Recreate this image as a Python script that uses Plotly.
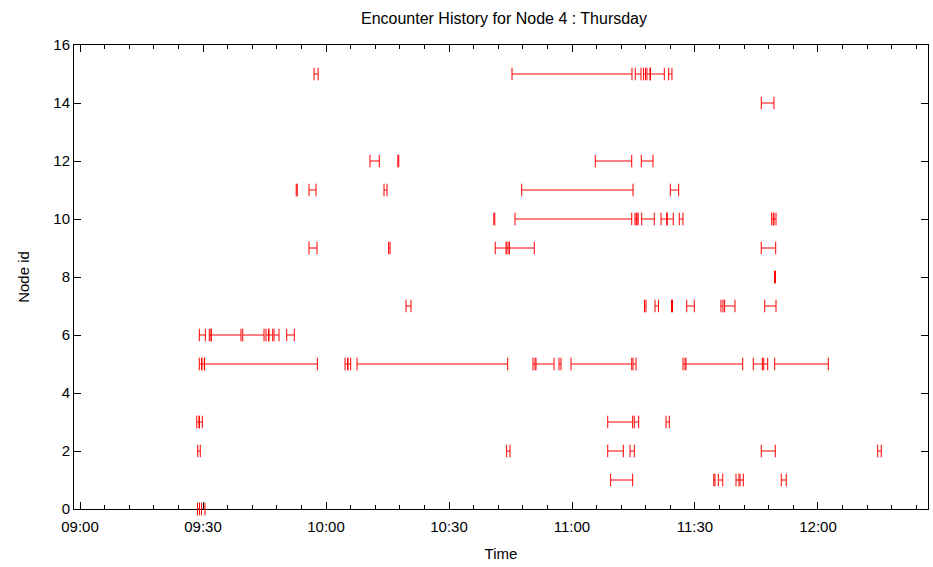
import plotly.graph_objects as go

DAY = "2009-03-05 "

# Encounter intervals per peer node: (node id, start, end)
node_ids = [15, 15, 15, 15, 15, 15, 15,
            14,
            12, 12, 12, 12,
            11, 11, 11, 11, 11,
            10, 10, 10, 10, 10, 10, 10, 10, 10, 10,
            9, 9, 9, 9, 9, 9,
            8,
            7, 7, 7, 7, 7, 7, 7, 7,
            6, 6, 6, 6, 6, 6, 6, 6,
            5, 5, 5, 5, 5, 5, 5, 5, 5, 5, 5, 5, 5, 5, 5, 5,
            3, 3, 3, 3, 3,
            2, 2, 2, 2, 2, 2,
            1, 1, 1, 1, 1, 1,
            0, 0]

start_times = [
    "09:57:05", "10:45:22", "11:15:26", "11:17:26", "11:18:17", "11:19:09", "11:23:35",
    "11:46:10",
    "10:10:44", "10:17:31", "11:05:41", "11:16:54",
    "09:52:44", "09:55:51", "10:14:09", "10:47:44", "11:23:59",
    "10:40:56", "10:46:06", "11:15:22", "11:15:51", "11:17:00", "11:21:43", "11:23:15",
    "11:26:10", "11:48:42", "11:49:16",
    "09:55:51", "10:15:16", "10:41:17", "10:44:09", "10:44:43", "11:46:10",
    "11:49:23",
    "10:19:31", "11:17:41", "11:20:15", "11:24:16", "11:27:59", "11:36:20", "11:37:14",
    "11:47:00",
    "09:29:06", "09:31:32", "09:32:01", "09:39:41", "09:45:22", "09:46:06", "09:47:19",
    "09:50:25",
    "09:29:06", "09:29:45", "09:30:23", "10:04:38", "10:05:22", "10:07:34", "10:50:29",
    "10:51:13", "10:56:50", "10:59:46", "11:14:53", "11:27:04", "11:27:48", "11:44:13",
    "11:46:46", "11:49:26",
    "09:28:28", "09:29:09", "11:08:43", "11:15:12", "11:22:56",
    "09:28:43", "10:44:04", "11:08:43", "11:14:09", "11:46:10", "12:14:34",
    "11:09:26", "11:34:35", "11:35:41", "11:40:00", "11:40:59", "11:51:03",
    "09:28:40", "09:29:38",
]

end_times = [
    "09:58:05", "11:14:38", "11:16:50", "11:17:56", "11:19:01", "11:22:31", "11:24:23",
    "11:49:16",
    "10:13:00", "10:17:45", "11:14:34", "11:19:45",
    "09:52:59", "09:57:34", "10:14:53", "11:14:53", "11:26:01",
    "10:41:10", "11:14:34", "11:15:40", "11:16:09", "11:20:04", "11:23:06", "11:24:42",
    "11:27:04", "11:49:06", "11:49:46",
    "09:57:48", "10:15:37", "10:43:54", "10:44:38", "10:50:48", "11:49:41",
    "11:49:38",
    "10:20:44", "11:18:03", "11:21:06", "11:24:31", "11:29:50", "11:36:50", "11:39:45",
    "11:49:46",
    "09:30:34", "09:31:57", "09:39:16", "09:44:53", "09:45:59", "09:47:00", "09:48:32",
    "09:52:16",
    "09:29:38", "09:30:19", "09:57:53", "10:05:15", "10:06:01", "10:44:19", "10:50:59",
    "10:55:37", "10:57:19", "11:14:34", "11:15:37", "11:27:34", "11:41:38", "11:46:25",
    "11:47:44", "12:02:31",
    "09:29:01", "09:29:50", "11:14:48", "11:16:16", "11:23:44",
    "09:29:20", "10:44:53", "11:12:31", "11:15:12", "11:49:35", "12:15:26",
    "11:14:48", "11:34:53", "11:36:46", "11:40:44", "11:41:47", "11:52:16",
    "09:29:09", "09:30:29",
]

y_ticks = [0, 2, 4, 6, 8, 10, 12, 14, 16]
x_tick_labels = ["09:00", "09:30", "10:00", "10:30", "11:00", "11:30", "12:00"]

RED = "#ff0000"
FONT = "Liberation Sans, Arial, sans-serif"

# Horizontal spans drawn as one broken line, with a cap at each end
seg_x, seg_y = [], []
cap_x, cap_y = [], []
for nid, s, e in zip(node_ids, start_times, end_times):
    seg_x += [DAY + s, DAY + e, None]
    seg_y += [nid, nid, None]
    cap_x += [DAY + s, DAY + e]
    cap_y += [nid, nid]

fig = go.Figure()
fig.add_trace(go.Scatter(
    x=seg_x, y=seg_y, mode="lines", cliponaxis=False,
    line=dict(color=RED, width=1), hoverinfo="skip", showlegend=False,
))
fig.add_trace(go.Scatter(
    x=cap_x, y=cap_y, mode="markers", cliponaxis=False,
    marker=dict(symbol="line-ns", size=9, line=dict(color=RED, width=1)),
    showlegend=False,
))

axis_common = dict(
    showline=True, linecolor="black", linewidth=1, mirror="allticks",
    ticks="inside", tickcolor="black", tickwidth=1,
    showgrid=False, zeroline=False, layer="below traces",
    tickfont=dict(family=FONT, size=15, color="black"),
)

fig.update_layout(
    width=933, height=567,
    margin=dict(l=74, r=5, t=45, b=58),
    plot_bgcolor="white", paper_bgcolor="white",
    title=dict(text="Encounter History for Node 4 : Thursday",
               xref="paper", x=0.5035, xanchor="center",
               yref="container", y=0.968, yanchor="middle",
               font=dict(family=FONT, size=16, color="black")),
    xaxis=dict(
        type="date",
        range=[DAY + "08:58:32", DAY + "12:26:50"],
        tickvals=[DAY + t for t in x_tick_labels],
        ticktext=x_tick_labels,
        ticklen=7,
        ticklabelstandoff=4,
        minor=dict(dtick=6 * 60 * 1000, ticks="inside", ticklen=4,
                   tickcolor="black", tickwidth=1, showgrid=False),
        title=dict(text="Time", font=dict(family=FONT, size=15, color="black"),
                   standoff=14),
        **axis_common,
    ),
    yaxis=dict(
        range=[0, 16],
        tickvals=y_ticks,
        ticklen=7,
        title=dict(text="Node id", font=dict(family=FONT, size=15, color="black"),
                   standoff=20),
        **axis_common,
    ),
)

fig.write_html("out.html")
